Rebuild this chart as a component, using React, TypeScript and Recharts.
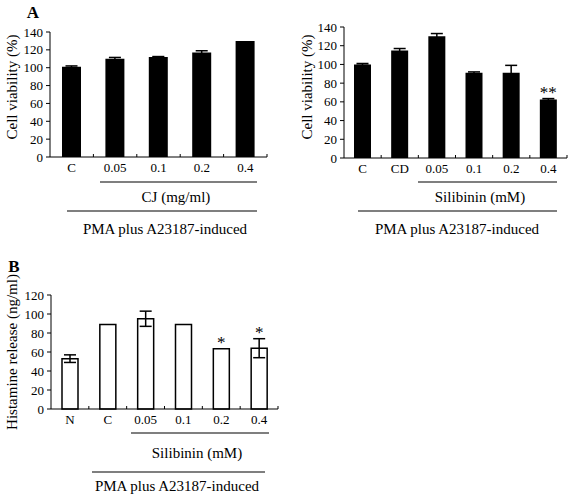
import React from 'react';
import { BarChart, Bar, XAxis, YAxis, ErrorBar, LabelList } from 'recharts';

const cjLabels = ['C', '0.05', '0.1', '0.2', '0.4'];
const cjViability = [101, 110, 112, 117, 130];
const cjErr = [1, 1.5, 0.5, 2, 0];

const silLabels = ['C', 'CD', '0.05', '0.1', '0.2', '0.4'];
const silViability = [100, 115, 130, 91, 91, 62.5];
const silErr = [1, 2, 3, 1, 8, 1];
const silSig = ['', '', '', '', '', '**'];

const histLabels = ['N', 'C', '0.05', '0.1', '0.2', '0.4'];
const histRelease = [53, 89, 95, 89, 63.5, 64];
const histErr = [4, 0, 8, 0, 0, 10];
const histSig = ['', '', '', '', '*', '*'];

const viabilityTicks = [0, 20, 40, 60, 80, 100, 120, 140];
const histTicks = [0, 20, 40, 60, 80, 100, 120];

const FONT = '"Liberation Serif", "Times New Roman", serif';

const cjData = cjLabels.map((name, i) => ({ name, v: cjViability[i], err: cjErr[i], sig: '' }));
const silData = silLabels.map((name, i) => ({ name, v: silViability[i], err: silErr[i], sig: silSig[i] }));
const histData = histLabels.map((name, i) => ({ name, v: histRelease[i], err: histErr[i], sig: histSig[i] }));

// ticks between the categories, label in the middle
const makeTick = (n: number, plotW: number) => (props: any) => {
  const { x, y, payload } = props;
  const half = plotW / n / 2;
  return (
    <g>
      <line x1={x + half} y1={y} x2={x + half} y2={y - 3} stroke="#000" strokeWidth={1} />
      <text x={x} y={y + 15} textAnchor="middle" fontSize={13} fontFamily={FONT} fill="#000">
        {payload.value}
      </text>
    </g>
  );
};

const makeSig = (data: { v: number; err: number; sig: string }[]) => (props: any) => {
  const { x, y, width, height, index } = props;
  const d = data[index];
  if (!d || !d.sig) return null;
  const off = d.v ? (height * d.err) / d.v : 0;
  return (
    <text x={x + width / 2} y={y - off - 1} textAnchor="middle" fontSize={17} fontFamily={FONT} fill="#000">
      {d.sig}
    </text>
  );
};

const yTick = { fontSize: 13, fontFamily: FONT, fill: '#000' };

export default function App() {
  return (
    <div style={{ position: 'absolute', left: 0, top: 0, width: 568, height: 495, background: '#fff', fontFamily: FONT }}>
      <div style={{ position: 'absolute', left: 0, top: 0 }}>
        <BarChart width={280} height={250} data={cjData} margin={{ top: 32, right: 13, left: 0, bottom: 0 }} barSize={19}>
          <XAxis dataKey="name" height={93} stroke="#000" tickSize={0} tickMargin={0} interval={0} tick={makeTick(5, 217)} />
          <YAxis width={50} domain={[0, 140]} ticks={viabilityTicks} interval={0} stroke="#000" tickSize={4} tickMargin={3} tick={yTick} />
          <Bar dataKey="v" fill="#000" isAnimationActive={false}>
            <ErrorBar dataKey="err" width={6} stroke="#000" strokeWidth={1.5} />
          </Bar>
        </BarChart>
      </div>
      <div style={{ position: 'absolute', left: 280, top: 0 }}>
        <BarChart width={288} height={250} data={silData} margin={{ top: 27, right: 1, left: 0, bottom: 0 }} barSize={17}>
          <XAxis dataKey="name" height={92} stroke="#000" tickSize={0} tickMargin={0} interval={0} tick={makeTick(6, 223)} />
          <YAxis width={64} domain={[0, 140]} ticks={viabilityTicks} interval={0} stroke="#000" tickSize={4} tickMargin={3} tick={yTick} />
          <Bar dataKey="v" fill="#000" isAnimationActive={false}>
            <ErrorBar dataKey="err" width={6} stroke="#000" strokeWidth={1.5} />
            <LabelList dataKey="sig" content={makeSig(silData)} />
          </Bar>
        </BarChart>
      </div>
      <div style={{ position: 'absolute', left: 0, top: 270 }}>
        <BarChart width={290} height={225} data={histData} margin={{ top: 25, right: 12, left: 0, bottom: 0 }} barSize={16}>
          <XAxis dataKey="name" height={86} stroke="#000" tickSize={0} tickMargin={0} interval={0} tick={makeTick(6, 227)} />
          <YAxis width={51} domain={[0, 120]} ticks={histTicks} interval={0} stroke="#000" tickSize={4} tickMargin={3} tick={yTick} />
          <Bar dataKey="v" fill="#fff" stroke="#000" strokeWidth={1.5} isAnimationActive={false}>
            <ErrorBar dataKey="err" width={6} stroke="#000" strokeWidth={1.5} />
            <LabelList dataKey="sig" content={makeSig(histData)} />
          </Bar>
        </BarChart>
      </div>
      <svg width={568} height={495} style={{ position: 'absolute', left: 0, top: 0, pointerEvents: 'none' }}>
        <g fontFamily={FONT} fill="#000">
          <text x={33} y={18} fontSize={17} fontWeight="bold" textAnchor="middle">A</text>
          <text x={14} y={272} fontSize={17} fontWeight="bold" textAnchor="middle">B</text>

          <text transform="translate(12,87) rotate(-90)" fontSize={15} textAnchor="middle" dominantBaseline="central">Cell viability (%)</text>
          <text transform="translate(307,87) rotate(-90)" fontSize={15} textAnchor="middle" dominantBaseline="central">Cell viability (%)</text>
          <text transform="translate(12,352) rotate(-90)" fontSize={15} textAnchor="middle" dominantBaseline="central">Histamine release (ng/ml)</text>

          <line x1={100} y1={182} x2={257} y2={182} stroke="#000" strokeWidth={1.2} />
          <text x={176} y={202} fontSize={15} textAnchor="middle">CJ (mg/ml)</text>
          <line x1={67} y1={211} x2={257} y2={211} stroke="#000" strokeWidth={1.2} />
          <text x={165} y={234} fontSize={15} textAnchor="middle">PMA plus A23187-induced</text>

          <line x1={418} y1={182} x2={557} y2={182} stroke="#000" strokeWidth={1.2} />
          <text x={480} y={202} fontSize={15} textAnchor="middle">Silibinin (mM)</text>
          <line x1={358} y1={211} x2={557} y2={211} stroke="#000" strokeWidth={1.2} />
          <text x={457} y={234} fontSize={15} textAnchor="middle">PMA plus A23187-induced</text>

          <line x1={131} y1={433} x2={269} y2={433} stroke="#000" strokeWidth={1.2} />
          <text x={197} y={458} fontSize={15} textAnchor="middle">Silibinin (mM)</text>
          <line x1={92} y1={472} x2={265} y2={472} stroke="#000" strokeWidth={1.2} />
          <text x={177} y={491} fontSize={15} textAnchor="middle">PMA plus A23187-induced</text>
        </g>
      </svg>
    </div>
  );
}
